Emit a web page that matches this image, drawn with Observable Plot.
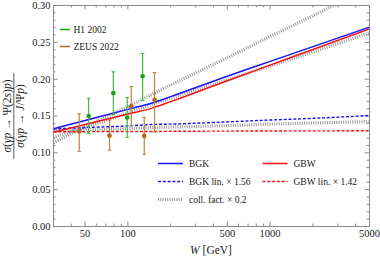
<!DOCTYPE html>
<html><head><meta charset="utf-8">
<script src="https://cdn.jsdelivr.net/npm/d3@7"></script>
<script src="https://cdn.jsdelivr.net/npm/@observablehq/plot@0.6"></script>
<style>body{margin:0;background:#fff} svg{display:block}</style>
</head><body><div id="chart"></div>
<script>
// ---- data ----
const W_GRID = [30, 50, 100, 150, 200, 500, 1000, 2000, 5000];
const BGK = [0.1326, 0.1438, 0.159, 0.168, 0.1763, 0.204, 0.2241, 0.2442, 0.2706];
const GBW = [0.128, 0.1384, 0.1526, 0.161, 0.1695, 0.1979, 0.2191, 0.2403, 0.2683];
const BGK_LIN = [0.1325, 0.1343, 0.1365, 0.1385, 0.139, 0.142, 0.1445, 0.1468, 0.1507];
const GBW_LIN = [0.1285, 0.1287, 0.129, 0.129, 0.1292, 0.1295, 0.1297, 0.1298, 0.130];
const COLL_MID = [0.121, 0.135, 0.154, 0.166, 0.174, 0.199, 0.218, 0.237, 0.263];
const COLL_LOW = [0.130, 0.1315, 0.133, 0.1345, 0.135, 0.137, 0.139, 0.1405, 0.1425];
const W_STEEP = [30, 50, 100, 200, 500, 1000, 2000, 3000];
const COLL_HIGH = [0.114, 0.135, 0.163, 0.192, 0.229, 0.258, 0.286, 0.303];

const H1_W = [53, 79, 99, 127];
const H1_R = [0.150, 0.181, 0.148, 0.204];
const H1_ERR_LO = [0.024, 0.029, 0.027, 0.033];
const H1_ERR_HI = [0.024, 0.029, 0.027, 0.031];

const ZEUS_W = [45.5, 74.3, 105.6, 130.4, 154];
const ZEUS_R = [0.129, 0.1235, 0.163, 0.123, 0.172];
const ZEUS_ERR_LO = [0.027, 0.020, 0.026, 0.025, 0.044];
const ZEUS_ERR_HI = [0.024, 0.021, 0.027, 0.025, 0.037];

const X_LABELED = [50, 100, 500, 1000, 5000];
const X_MINOR = [40, 60, 70, 80, 90, 200, 300, 400, 600, 700, 800, 900, 2000, 3000, 4000];
const Y_LABELED = [0, 0.05, 0.10, 0.15, 0.20, 0.25, 0.30];
const Y_MINOR = [0.01,0.02,0.03,0.04,0.06,0.07,0.08,0.09,0.11,0.12,0.13,0.14,0.16,0.17,0.18,0.19,0.21,0.22,0.23,0.24,0.26,0.27,0.28,0.29];

const DATA_LABELS = ["H1 2002", "ZEUS 2022"];
const MODEL_LABELS = ["BGK", "GBW", "BGK lin. × 1.56", "GBW lin. × 1.42", "coll. fact. × 0.2"];
const X_TITLE = ["W", " [GeV]"];
const Y_NUM = [["σ",1],["(",0],["γp",1],[" → ",0],["Ψ(2",0],["s",1],[")",0],["p",1],[")",0]];
const Y_DEN = [["σ",1],["(",0],["γp",1],[" → ",0],["J",1],["/",0],["Ψ",0],["p",1],[")",0]];

// ---- layout / style ----
const width = 380, height = 259;
const mL = 53, mR = 11, mT = 5, mB = 33;
const innerW = width - mL - mR, innerH = height - mT - mB;
const FONT = "'Liberation Serif', 'DejaVu Serif', serif";
const C_BLUE = "#1414f5", C_RED = "#f41414";
const C_GREEN = "#1f9e1f", C_GREEN_BAR = "#45b845";
const C_BROWN = "#b0641e", C_BROWN_BAR = "#c2823f";
const C_GRAY = "#9a9a9a";
const FRAME = "#8a8a8a";
const DOT_DASH = "1 1.3";
const DASH = "3 1.8";

const rows = (xs, ys) => xs.map((x, i) => ({W: x, r: ys[i]}));
const pts = (xs, ys, lo, hi) => xs.map((x, i) => ({W: x, r: ys[i], lo: ys[i] - lo[i], hi: ys[i] + hi[i]}));
const h1 = pts(H1_W, H1_R, H1_ERR_LO, H1_ERR_HI);
const zeus = pts(ZEUS_W, ZEUS_R, ZEUS_ERR_LO, ZEUS_ERR_HI);

const capSymbol = {draw(ctx, size) { const r = Math.sqrt(size / Math.PI); ctx.moveTo(-r, 0); ctx.lineTo(r, 0); }};
const dotted = {stroke: C_GRAY, strokeWidth: 3.2, strokeDasharray: DOT_DASH, strokeLinecap: "butt", curve: "monotone-x"};
const dashed = c => ({stroke: c, strokeWidth: 1.4, strokeDasharray: DASH, strokeLinecap: "butt", curve: "monotone-x"});

const errMarks = (data, cBar, cDot) => [
  Plot.ruleX(data, {x: "W", y1: "lo", y2: "hi", stroke: cBar, strokeWidth: 1.2}),
  Plot.dot(data, {x: "W", y: "lo", symbol: capSymbol, r: 1.8, stroke: cBar, strokeWidth: 1.1}),
  Plot.dot(data, {x: "W", y: "hi", symbol: capSymbol, r: 1.8, stroke: cBar, strokeWidth: 1.1}),
  Plot.dot(data, {x: "W", y: "r", r: 2.3, fill: cDot, stroke: null})
];

const plot = Plot.plot({
  width, height, marginLeft: mL, marginRight: mR, marginTop: mT, marginBottom: mB,
  style: {fontFamily: FONT, fontSize: "10.5px", color: "#222", background: "#fff"},
  x: {type: "log", domain: [30, 5000], axis: null},
  y: {domain: [0, 0.30], axis: null},
  marks: [
    // tick labels
    Plot.text(X_LABELED, {x: d => d, text: d => String(d), frameAnchor: "bottom", dy: 10, fill: "#222"}),
    Plot.text(Y_LABELED, {y: d => d, text: d => d3.format(".2f")(d), frameAnchor: "left", dx: -3, textAnchor: "end", fill: "#222"}),
    // inward frame ticks
    Plot.tickY(Y_LABELED, {y: d => d, stroke: FRAME, insetRight: innerW - 4.5}),
    Plot.tickY(Y_LABELED, {y: d => d, stroke: FRAME, insetLeft: innerW - 4.5}),
    Plot.tickY(Y_MINOR, {y: d => d, stroke: FRAME, insetRight: innerW - 2.5}),
    Plot.tickY(Y_MINOR, {y: d => d, stroke: FRAME, insetLeft: innerW - 2.5}),
    Plot.tickX(X_LABELED, {x: d => d, stroke: FRAME, insetTop: innerH - 4.5}),
    Plot.tickX(X_LABELED, {x: d => d, stroke: FRAME, insetBottom: innerH - 4.5}),
    Plot.tickX(X_MINOR, {x: d => d, stroke: FRAME, insetTop: innerH - 2.5}),
    Plot.tickX(X_MINOR, {x: d => d, stroke: FRAME, insetBottom: innerH - 2.5}),
    // theory curves
    Plot.line(rows(W_STEEP, COLL_HIGH), {x: "W", y: "r", ...dotted, clip: true}),
    Plot.line(rows(W_GRID, COLL_MID), {x: "W", y: "r", ...dotted}),
    Plot.line(rows(W_GRID, COLL_LOW), {x: "W", y: "r", ...dotted}),
    Plot.line(rows(W_GRID, GBW_LIN), {x: "W", y: "r", ...dashed(C_RED)}),
    Plot.line(rows(W_GRID, BGK_LIN), {x: "W", y: "r", ...dashed(C_BLUE)}),
    Plot.line(rows(W_GRID, GBW), {x: "W", y: "r", stroke: C_RED, strokeWidth: 1.5, curve: "monotone-x"}),
    Plot.line(rows(W_GRID, BGK), {x: "W", y: "r", stroke: C_BLUE, strokeWidth: 1.5, curve: "monotone-x"}),
    // data
    ...errMarks(zeus, C_BROWN_BAR, C_BROWN),
    ...errMarks(h1, C_GREEN_BAR, C_GREEN),
    Plot.frame({stroke: FRAME, strokeWidth: 1})
  ]
});

const svg = d3.select(plot);

// legends
const lg = svg.append("g").attr("font-family", FONT).attr("font-size", 9.5).attr("fill", "#222").attr("text-anchor", "start");
const dataLeg = [{c: C_GREEN, x: 60, y: 29.5}, {c: C_BROWN, x: 60, y: 46.5}];
dataLeg.forEach((d, i) => {
  lg.append("line").attr("x1", d.x).attr("x2", d.x + 10).attr("y1", d.y).attr("y2", d.y).attr("stroke", d.c).attr("stroke-width", 1.5);
  lg.append("text").attr("x", d.x + 13.5).attr("y", d.y + 3.3).text(DATA_LABELS[i]);
});
const modLeg = [
  {x: 158, y: 163.5, s: C_BLUE, w: 1.5, da: null},
  {x: 262.5, y: 163.5, s: C_RED, w: 1.5, da: null},
  {x: 158, y: 181.5, s: C_BLUE, w: 1.4, da: DASH},
  {x: 262.5, y: 181.5, s: C_RED, w: 1.4, da: DASH},
  {x: 158, y: 199.5, s: C_GRAY, w: 3.2, da: DOT_DASH}
];
modLeg.forEach((d, i) => {
  const ln = lg.append("line").attr("x1", d.x).attr("x2", d.x + 25).attr("y1", d.y).attr("y2", d.y).attr("stroke", d.s).attr("stroke-width", d.w);
  if (d.da) ln.attr("stroke-dasharray", d.da);
  lg.append("text").attr("x", d.x + 31).attr("y", d.y + 3.3).text(MODEL_LABELS[i]);
});

// axis titles
const xt = svg.append("text").attr("x", 211).attr("y", 253.5).attr("text-anchor", "middle")
  .attr("font-family", FONT).attr("font-size", 11.5).attr("fill", "#222");
xt.append("tspan").attr("font-style", "italic").text(X_TITLE[0]);
xt.append("tspan").text(X_TITLE[1]);

const yg = svg.append("g").attr("transform", "translate(0,116) rotate(-90)")
  .attr("font-family", FONT).attr("font-size", 11.5).attr("fill", "#222");
const frac = (parts, base) => {
  const t = yg.append("text").attr("x", 0).attr("y", base).attr("text-anchor", "middle");
  parts.forEach(([s, it]) => t.append("tspan").attr("font-style", it ? "italic" : "normal").text(s));
};
frac(Y_NUM, 10.5);
frac(Y_DEN, 24);
yg.append("line").attr("x1", -43).attr("x2", 43).attr("y1", 13.8).attr("y2", 13.8).attr("stroke", "#333").attr("stroke-width", 0.8);

document.getElementById("chart").appendChild(plot);
</script>
</body></html>
